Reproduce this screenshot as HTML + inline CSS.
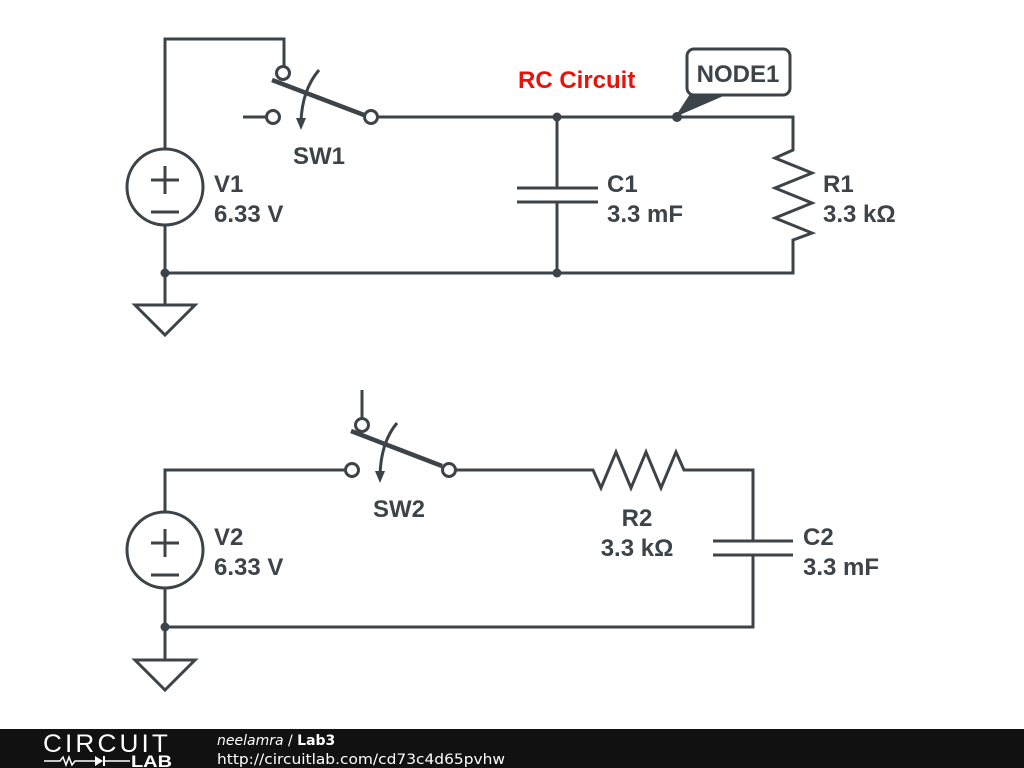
<!DOCTYPE html>
<html><head><meta charset="utf-8"><style>
html,body{margin:0;padding:0;background:#fff;width:1024px;height:768px;overflow:hidden}
svg{display:block}
text{font-family:"Liberation Sans",sans-serif;font-weight:bold;fill:#3c4449;font-size:24px}
</style></head><body>
<svg width="1024" height="768" viewBox="0 0 1024 768">
<g stroke="#3c4449" stroke-width="3" fill="none">
<polyline points="165,149 165,39 284,39 284,66"/>
<circle cx="165" cy="187" r="38"/>
<line x1="151" y1="180" x2="179" y2="180"/><line x1="165" y1="166" x2="165" y2="194"/>
<line x1="151" y1="212" x2="179" y2="212"/>
<circle cx="283" cy="73" r="6.5"/>
<circle cx="273" cy="117" r="6.5"/>
<circle cx="371" cy="117" r="6.5"/>
<line x1="243" y1="117" x2="266" y2="117"/>
<line x1="272" y1="80" x2="364" y2="115" stroke-width="4.5"/>
<path d="M319,70 Q302,90 301,122"/>
<polyline points="378,117 793,117 793,150 775,158 812,173 775,188 812,203 775,218 812,233 793,240 793,273 165,273 165,225"/>
<line x1="557" y1="117" x2="557" y2="188"/>
<line x1="517" y1="188" x2="598" y2="188"/><line x1="517" y1="202" x2="598" y2="202"/>
<line x1="557" y1="202" x2="557" y2="273"/>
<line x1="165" y1="273" x2="165" y2="305"/>
<polygon points="135,305 195,305 165,335"/>
<circle cx="165" cy="550" r="38"/>
<line x1="151" y1="543" x2="179" y2="543"/><line x1="165" y1="529" x2="165" y2="557"/>
<line x1="151" y1="575" x2="179" y2="575"/>
<polyline points="165,512 165,470 345,470"/>
<line x1="362" y1="390" x2="362" y2="418"/>
<circle cx="362" cy="425" r="6.5"/>
<circle cx="352" cy="470" r="6.5"/>
<circle cx="449" cy="470" r="6.5"/>
<line x1="351" y1="431" x2="442" y2="466" stroke-width="4.5"/>
<path d="M397,423 Q381,442 380,475"/>
<polyline points="456,470 593,470 601,488 616,452 631,488 646,452 661,488 676,452 684,470 753,470 753,541"/>
<line x1="713" y1="541" x2="793" y2="541"/><line x1="713" y1="555" x2="793" y2="555"/>
<polyline points="753,555 753,627 165,627 165,588"/>
<line x1="165" y1="627" x2="165" y2="660"/>
<polygon points="135,660 195,660 165,690"/>
</g>
<g fill="#3c4449">
<polygon points="296,118 306,118 301,130"/>
<polygon points="375,471 385,471 380,483"/>
<circle cx="165" cy="273" r="4.5"/><circle cx="557" cy="273" r="4.5"/>
<circle cx="557" cy="117" r="4.5"/><circle cx="677" cy="117" r="5"/>
<circle cx="165" cy="627" r="4.5"/>
<polygon points="675,117 690,94 728,94"/>
</g>
<rect x="687" y="49" width="103" height="46" rx="7" fill="#fff" stroke="#3c4449" stroke-width="3"/>
<text x="738" y="82" text-anchor="middle">NODE1</text>
<text x="518" y="88" style="fill:#e8120c">RC Circuit</text>
<text x="293" y="164">SW1</text>
<text x="214" y="192">V1</text><text x="214" y="222">6.33 V</text>
<text x="607" y="192">C1</text><text x="607" y="222">3.3 mF</text>
<text x="823" y="192">R1</text><text x="823" y="222">3.3 kΩ</text>
<text x="373" y="517">SW2</text>
<text x="214" y="545">V2</text><text x="214" y="575">6.33 V</text>
<text x="637" y="526" text-anchor="middle">R2</text><text x="637" y="556" text-anchor="middle">3.3 kΩ</text>
<text x="803" y="545">C2</text><text x="803" y="575">3.3 mF</text>
<rect x="0" y="729" width="1024" height="39" fill="#111"/>
<text x="43" y="752" style="fill:#fff;font-weight:normal;font-size:25px;letter-spacing:3px" textLength="128" lengthAdjust="spacingAndGlyphs">CIRCUIT</text>
<g stroke="#fff" stroke-width="1.5" fill="none"><polyline points="44,761 60,761 63,757 66,765 69,757 72,765 75,761 95,761"/><line x1="105" y1="761" x2="130" y2="761"/></g>
<polygon points="95,756 95,766 103,761" fill="#fff"/><line x1="104" y1="756" x2="104" y2="766" stroke="#fff" stroke-width="2"/>
<text x="131" y="767" style="fill:#fff;font-size:17px" textLength="41" lengthAdjust="spacingAndGlyphs">LAB</text>
<text x="217" y="745" style="fill:#fff;font-family:'DejaVu Sans',sans-serif;font-size:14px;font-weight:normal;font-style:italic">neelamra <tspan style="font-style:normal">/</tspan> <tspan style="font-style:normal;font-weight:bold">Lab3</tspan></text>
<text x="217" y="764" style="fill:#fff;font-family:'DejaVu Sans',sans-serif;font-size:14px;font-weight:normal" textLength="288" lengthAdjust="spacingAndGlyphs">http://circuitlab.com/cd73c4d65pvhw</text>
</svg>
</body></html>
